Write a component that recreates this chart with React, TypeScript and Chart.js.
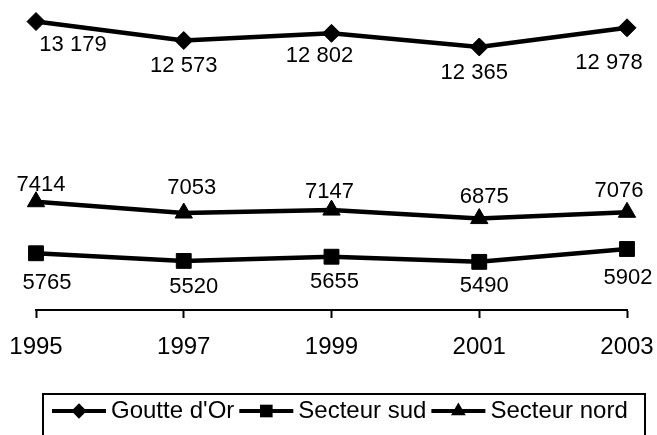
import React, { useEffect, useRef } from "react";
import { Chart, registerables } from "chart.js";

Chart.register(...registerables);

const years = ["1995", "1997", "1999", "2001", "2003"];
const goutteDOr = [13179, 12573, 12802, 12365, 12978];
const secteurSud = [5765, 5520, 5655, 5490, 5902];
const secteurNord = [7414, 7053, 7147, 6875, 7076];
const goutteLabels = ["13 179", "12 573", "12 802", "12 365", "12 978"];
const sudLabels = ["5765", "5520", "5655", "5490", "5902"];
const nordLabels = ["7414", "7053", "7147", "6875", "7076"];

// label nudges (style) relative to each point: [dx, dy]
const goutteNudge = [[37, 23], [0, 25], [-12, 23], [-5, 26], [-18, 35]];
const sudNudge = [[11, 30], [10, 26], [3, 25], [5, 24], [1, 29]];
const nordNudge = [[5, -17], [8, -25], [-2, -18], [5, -22], [-8, -21]];

const FONT = "'Liberation Sans', Arial, sans-serif";

function marker(ctx: CanvasRenderingContext2D, style: string, x: number, y: number, r: number) {
  ctx.beginPath();
  if (style === "rectRot") {
    ctx.moveTo(x, y - r);
    ctx.lineTo(x + r, y);
    ctx.lineTo(x, y + r);
    ctx.lineTo(x - r, y);
  } else if (style === "rect") {
    const s = r * Math.SQRT1_2;
    ctx.rect(x - s, y - s, 2 * s, 2 * s);
  } else {
    ctx.moveTo(x, y - r);
    ctx.lineTo(x + r * 0.866, y + r / 2);
    ctx.lineTo(x - r * 0.866, y + r / 2);
  }
  ctx.closePath();
  ctx.fill();
}

const labelsPlugin = {
  id: "pointLabels",
  afterDatasetsDraw(chart: any) {
    const ctx = chart.ctx;
    const sets = [
      { idx: 0, texts: goutteLabels, nudge: goutteNudge },
      { idx: 1, texts: sudLabels, nudge: sudNudge },
      { idx: 2, texts: nordLabels, nudge: nordNudge },
    ];
    ctx.save();
    ctx.fillStyle = "#000";
    ctx.font = `22px ${FONT}`;
    ctx.textAlign = "center";
    ctx.textBaseline = "middle";
    sets.forEach((s) => {
      const meta = chart.getDatasetMeta(s.idx);
      meta.data.forEach((pt: any, i: number) => {
        ctx.fillText(s.texts[i], pt.x + s.nudge[i][0], pt.y + s.nudge[i][1]);
      });
    });
    ctx.restore();
  },
};

const legendPlugin = {
  id: "boxLegend",
  afterDraw(chart: any) {
    const ctx = chart.ctx;
    ctx.save();
    ctx.strokeStyle = "#000";
    ctx.lineWidth = 2;
    ctx.strokeRect(43, 394, 602, 60);
    ctx.font = `24px ${FONT}`;
    ctx.textBaseline = "middle";
    ctx.textAlign = "left";
    ctx.fillStyle = "#000";
    const y = 411;
    let x = 52;
    chart.data.datasets.forEach((ds: any) => {
      ctx.lineWidth = 4;
      ctx.beginPath();
      ctx.moveTo(x, y);
      ctx.lineTo(x + 54, y);
      ctx.stroke();
      marker(ctx, ds.pointStyle, x + 27, y, ds.pointRadius * 0.85);
      ctx.fillText(ds.label, x + 59, y);
      x += 59 + ctx.measureText(ds.label).width + 5;
    });
    ctx.restore();
  },
};

export default function App() {
  const ref = useRef<HTMLCanvasElement | null>(null);
  useEffect(() => {
    if (!ref.current) return;
    const common = {
      borderColor: "#000",
      backgroundColor: "#000",
      pointBackgroundColor: "#000",
      pointBorderColor: "#000",
      borderWidth: 4.5,
      pointBorderWidth: 1,
      tension: 0,
    };
    const chart = new Chart(ref.current, {
      type: "line",
      data: {
        labels: years,
        datasets: [
          { ...common, label: "Goutte d'Or", data: goutteDOr, pointStyle: "rectRot", pointRadius: 9 },
          { ...common, label: "Secteur sud", data: secteurSud, pointStyle: "rect", pointRadius: 10.5 },
          { ...common, label: "Secteur nord", data: secteurNord, pointStyle: "triangle", pointRadius: 10 },
        ],
      },
      options: {
        responsive: false,
        animation: false,
        layout: { padding: { left: 36, right: 30, top: 9, bottom: 0 } },
        plugins: { legend: { display: false }, tooltip: { enabled: false } },
        scales: {
          x: {
            offset: false,
            afterFit(scale: any) {
              scale.height = 125;
              scale.paddingLeft = 0;
              scale.paddingRight = 0;
            },
            border: { display: true, color: "#000", width: 2 },
            grid: {
              display: true,
              drawOnChartArea: false,
              drawTicks: true,
              tickLength: 8,
              tickColor: "#000",
              tickWidth: 2,
              color: "#000",
            },
            ticks: {
              color: "#000",
              font: { family: FONT, size: 24 },
              padding: 15,
              maxRotation: 0,
            },
          },
          y: {
            display: false,
            min: 3950,
            max: 13500,
          },
        },
      },
      plugins: [labelsPlugin, legendPlugin],
    });
    return () => chart.destroy();
  }, []);
  return (
    <div style={{ position: "absolute", left: 0, top: 0, width: 657, height: 435, background: "#fff" }}>
      <canvas ref={ref} width={657} height={435} style={{ display: "block" }} />
    </div>
  );
}
